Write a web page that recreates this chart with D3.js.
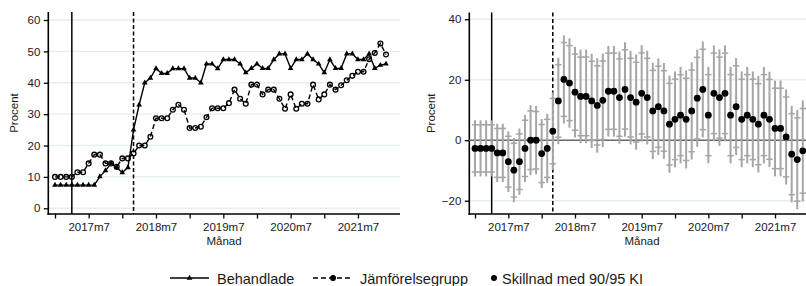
<!DOCTYPE html>
<html>
<head>
<meta charset="utf-8">
<script src="https://cdn.jsdelivr.net/npm/d3@7"></script>
<style>
  body { margin: 0; background: #fff; }
  text { font-family: "Liberation Sans", Arial, sans-serif; fill: #1a1a1a; }
</style>
</head>
<body>
<svg width="806" height="286"></svg>
<script>
// months, 2017m1 .. 2021m12
const months = [
  "2017m1","2017m2","2017m3","2017m4","2017m5","2017m6","2017m7","2017m8","2017m9","2017m10","2017m11","2017m12",
  "2018m1","2018m2","2018m3","2018m4","2018m5","2018m6","2018m7","2018m8","2018m9","2018m10","2018m11","2018m12",
  "2019m1","2019m2","2019m3","2019m4","2019m5","2019m6","2019m7","2019m8","2019m9","2019m10","2019m11","2019m12",
  "2020m1","2020m2","2020m3","2020m4","2020m5","2020m6","2020m7","2020m8","2020m9","2020m10","2020m11","2020m12",
  "2021m1","2021m2","2021m3","2021m4","2021m5","2021m6","2021m7","2021m8","2021m9","2021m10","2021m11","2021m12"
];

const behandlade = [
  7.4, 7.4, 7.4, 7.4, 7.4, 7.4, 7.4, 7.4, 10.1, 12,
  14.3, 13, 11.4, 13, 25, 33, 40, 41.5, 44.5, 43,
  43, 44.5, 44.5, 44.5, 41.5, 41.5, 40, 46, 46, 44.5,
  47.4, 47.4, 47.4, 46, 43.2, 44.6, 46, 44.6, 44.6, 47.4,
  49.2, 49.2, 44.6, 47.4, 47.4, 49.2, 47.4, 46, 43.2, 47.4,
  44.6, 44.6, 49.2, 49.2, 47.4, 47.4, 49.2, 44.6, 45.6, 46
];

const jamforelse = [
  10, 10, 10, 10, 11.5, 11.5, 14.3, 17.1, 17.1, 14.3,
  14.3, 13.2, 15.9, 15.9, 17.5, 20, 20, 22.8, 28.7, 28.7,
  28.7, 31.4, 33, 31.4, 25.6, 25.6, 26, 29, 31.9, 31.9,
  31.9, 33.5, 37.8, 34.9, 33.3, 39.4, 39.4, 36.3, 37.8, 37.8,
  34.9, 31.7, 36.3, 31.7, 33.3, 33.3, 39.4, 34.7, 36.3, 39.4,
  37.8, 39.2, 40.8, 42.2, 43.5, 43.5, 47.5, 49.5, 52.5, 49
];

const skillnad = [
  -2.7, -2.7, -2.7, -2.7, -4.2, -4.2, -7.1, -9.9, -7.1, -2.7,
  0, 0, -4.4, -2.7, 3, 13, 20.1, 18.9, 15.9, 14.5,
  14.5, 13, 11.5, 13.2, 16.2, 16.2, 14.1, 16.8, 14.1, 12.6,
  15.5, 14.1, 9.7, 11.1, 9.7, 5.3, 6.9, 8.3, 6.9, 9.7,
  13.9, 16.8, 8.3, 15.5, 14.1, 15.5, 8.3, 11.1, 6.9, 8.3,
  6.9, 5.3, 8.3, 6.9, 3.9, 3.9, 1.1, -4.6, -6.4, -3.5
];

// half width of the 90% interval
const halfwidth90 = [
  7.8, 7.8, 7.8, 7.8, 8.1, 8.1, 8.4, 8.9, 9.2, 9.3,
  9.7, 9.5, 9.6, 9.6, 10.8, 12, 12.2, 12.4, 12.6, 13,
  13, 13.1, 13.1, 13, 12.6, 12.6, 12.8, 13.1, 13, 13.2,
  13.4, 13, 13.4, 13.4, 13.3, 13.5, 13.3, 13.4, 13.6, 13.5,
  13.5, 13.3, 13.4, 13.3, 13.4, 13.3, 13.4, 13.5, 13.3, 13.4,
  13.3, 13.4, 13.4, 13.2, 13.3, 13.3, 13.2, 13.4, 13.8, 14
];

const leftTicks = [0, 10, 20, 30, 40, 50, 60];
const rightTicks = [-20, 0, 20, 40];
const startMonth = "2017m4";   // solid reference line
const postMonth = "2018m3";    // dashed reference line
const legendLabels = ["Behandlade", "Jämförelsegrupp", "Skillnad med 90/95 KI"];

const z90 = 1.645, z95 = 1.96;

const svg = d3.select("svg");
const tickIdx = d3.range(0, months.length, 6);

function panel(opt) {
  const g = svg.append("g");
  const x = d3.scaleLinear().domain([0, months.length - 1]).range(opt.xRange);
  const y = d3.scaleLinear().domain(opt.yDomain).range(opt.yRange);

  // grid
  g.append("g").selectAll("line")
    .data(opt.ticks)
    .enter().append("line")
    .attr("x1", opt.x0).attr("x2", opt.x1)
    .attr("y1", d => y(d)).attr("y2", d => y(d))
    .attr("stroke", "#e6eef1")
    .attr("stroke-width", 1.4);

  // y axis
  const ya = g.append("g")
    .attr("transform", `translate(${opt.x0},0)`)
    .call(d3.axisLeft(y).tickValues(opt.ticks).tickSize(4.5).tickPadding(3.5));
  ya.select(".domain").remove();
  ya.selectAll("line").attr("stroke", "#000").attr("stroke-width", 1.3);
  ya.selectAll("text").style("font-size", "11.5px").attr("fill", "#1a1a1a")
    .style("font-family", '"Liberation Sans", Arial, sans-serif');

  // x axis
  const xa = g.append("g")
    .attr("transform", `translate(0,${opt.yBottom})`)
    .call(d3.axisBottom(x).tickValues(tickIdx).tickSize(4.5).tickPadding(4)
      .tickFormat(i => months[i].endsWith("m7") ? months[i] : ""));
  xa.select(".domain").remove();
  xa.selectAll("line").attr("stroke", "#000").attr("stroke-width", 1.3);
  xa.selectAll("text").style("font-size", "11.5px").attr("fill", "#1a1a1a")
    .style("font-family", '"Liberation Sans", Arial, sans-serif');

  // axis lines
  g.append("line").attr("x1", opt.x0).attr("x2", opt.x0)
    .attr("y1", opt.yTop).attr("y2", opt.yBottom + 0.8)
    .attr("stroke", "#000").attr("stroke-width", 1.6);
  g.append("line").attr("x1", opt.x0 - 0.8).attr("x2", opt.x1)
    .attr("y1", opt.yBottom).attr("y2", opt.yBottom)
    .attr("stroke", "#000").attr("stroke-width", 1.6);

  // titles
  g.append("text")
    .attr("transform", `translate(${opt.x0 - opt.titleGap},${(opt.yTop + opt.yBottom) / 2}) rotate(-90)`)
    .attr("text-anchor", "middle")
    .style("font-size", "11.5px")
    .text("Procent");
  g.append("text")
    .attr("x", opt.titleX).attr("y", opt.yBottom + 30.5)
    .attr("text-anchor", "middle")
    .style("font-size", "11.5px")
    .text("Månad");

  // reference lines
  g.append("line")
    .attr("x1", x(months.indexOf(startMonth))).attr("x2", x(months.indexOf(startMonth)))
    .attr("y1", opt.yTop).attr("y2", opt.yBottom)
    .attr("stroke", "#000").attr("stroke-width", 1.5);
  g.append("line")
    .attr("x1", x(months.indexOf(postMonth))).attr("x2", x(months.indexOf(postMonth)))
    .attr("y1", opt.yTop).attr("y2", opt.yBottom)
    .attr("stroke", "#000").attr("stroke-width", 1.5)
    .attr("stroke-dasharray", "4,2.5");

  return { g, x, y };
}

// ---- left panel: levels
const L = panel({ x0: 48.3, x1: 400, yTop: 12, yBottom: 214, xRange: [55, 386],
  yDomain: [0, 60], yRange: [208.3, 20], ticks: leftTicks, titleX: 224, titleGap: 30 });

const lineL = d3.line().x((d, i) => L.x(i)).y(d => L.y(d));

L.g.append("path").datum(jamforelse)
  .attr("d", lineL).attr("fill", "none")
  .attr("stroke", "#000").attr("stroke-width", 1.4)
  .attr("stroke-dasharray", "5,3");
L.g.append("g").selectAll("circle")
  .data(jamforelse).enter().append("circle")
  .attr("cx", (d, i) => L.x(i)).attr("cy", d => L.y(d))
  .attr("r", 2.4).attr("fill", "none")
  .attr("stroke", "#000").attr("stroke-width", 1.3);

L.g.append("path").datum(behandlade)
  .attr("d", lineL).attr("fill", "none")
  .attr("stroke", "#000").attr("stroke-width", 1.4);
const tri = d3.symbol().type(d3.symbolTriangle).size(14);
L.g.append("g").selectAll("path")
  .data(behandlade).enter().append("path")
  .attr("d", tri)
  .attr("transform", (d, i) => `translate(${L.x(i)},${L.y(d)})`)
  .attr("fill", "#000");

// ---- right panel: difference with intervals
const R = panel({ x0: 469.3, x1: 815, yTop: 12.5, yBottom: 214, xRange: [475, 802.8],
  yDomain: [-20, 40], yRange: [200.7, 19.3], ticks: rightTicks, titleX: 642, titleGap: 34 });

R.g.append("line")
  .attr("x1", R.x.range()[0] - 6).attr("x2", 815)
  .attr("y1", R.y(0)).attr("y2", R.y(0))
  .attr("stroke", "#6a6a6a").attr("stroke-width", 1.3);

const se = halfwidth90.map(h => h / z90);
const ci = R.g.append("g").selectAll("g")
  .data(skillnad).enter().append("g");
ci.append("line")
  .attr("x1", (d, i) => R.x(i)).attr("x2", (d, i) => R.x(i))
  .attr("y1", (d, i) => R.y(d + z95 * se[i])).attr("y2", (d, i) => R.y(d - z95 * se[i]))
  .attr("stroke", "#a6a6a6").attr("stroke-width", 2);
[1, -1].forEach(s => {
  ci.append("line")
    .attr("x1", (d, i) => R.x(i) - 3.2).attr("x2", (d, i) => R.x(i) + 3.2)
    .attr("y1", (d, i) => R.y(d + s * z90 * se[i])).attr("y2", (d, i) => R.y(d + s * z90 * se[i]))
    .attr("stroke", "#a6a6a6").attr("stroke-width", 1.5);
});

R.g.append("g").selectAll("circle")
  .data(skillnad).enter().append("circle")
  .attr("cx", (d, i) => R.x(i)).attr("cy", d => R.y(d))
  .attr("r", 3.4).attr("fill", "#000");

// ---- legend
const leg = svg.append("g").attr("transform", "translate(0,278)");
const legText = (x, t) => leg.append("text").attr("x", x).attr("y", 6)
  .style("font-size", "14.5px").text(t);

leg.append("line").attr("x1", 170).attr("x2", 209).attr("y1", 0).attr("y2", 0)
  .attr("stroke", "#000").attr("stroke-width", 1.4);
leg.append("path").attr("d", tri).attr("transform", "translate(189.5,0)").attr("fill", "#000");
legText(217, legendLabels[0]);

leg.append("line").attr("x1", 313).attr("x2", 353).attr("y1", 0).attr("y2", 0)
  .attr("stroke", "#000").attr("stroke-width", 1.4).attr("stroke-dasharray", "5,3");
leg.append("circle").attr("cx", 333).attr("cy", 0).attr("r", 2.4)
  .attr("fill", "#000").attr("stroke", "#000").attr("stroke-width", 1.3);
legText(360, legendLabels[1]);

leg.append("circle").attr("cx", 494).attr("cy", 0).attr("r", 3).attr("fill", "#000");
legText(502, legendLabels[2]);
</script>
</body>
</html>
